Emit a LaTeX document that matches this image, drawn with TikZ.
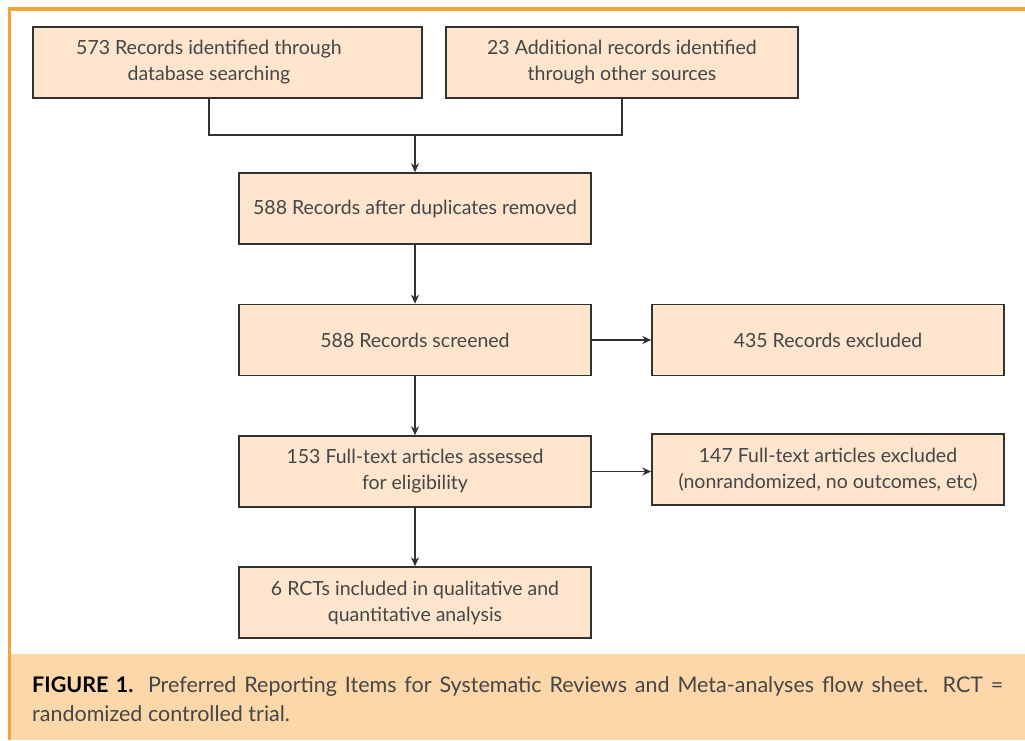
\documentclass[tikz,border=0pt]{standalone}
\usepackage{fontspec}
\setmainfont{Lato}
\usetikzlibrary{arrows.meta}
\definecolor{boxfill}{RGB}{253,229,206}
\definecolor{capfill}{RGB}{252,215,170}
\definecolor{frameorange}{RGB}{247,163,60}
\definecolor{linegray}{RGB}{50,50,50}
\definecolor{textgray}{RGB}{70,70,70}
\tikzstyle{record} = [rectangle, minimum width=352pt, minimum height=71pt, text centered, align=center, draw=linegray, line width=1.5pt, fill=boxfill, text=textgray, font=\fontsize{19.5}{26}\selectfont]
\tikzstyle{arrow} = [line width=1.5pt, draw=linegray, -{Stealth[length=9pt,width=8pt]}]
\tikzstyle{joinline} = [line width=1.5pt, draw=linegray]
\begin{document}
\begin{tikzpicture}[x=1pt,y=-1pt]
	\useasboundingbox (0,0) rectangle (1025,740);
	% frame and caption panel
	\fill[capfill] (11,654) rectangle (1025,740);
	\draw[frameorange, line width=3.5pt] (9.5,740) -- (9.5,9) -- (1025,9);
	\node[record, inner xsep=0pt] (identified) at (227.5,62.5) {\parbox{352pt}{\centering 573 Records identified through\\database searching}\hspace*{37pt}};
	\node[record] (additional) at (622,62.5) {23 Additional records identified\\through other sources};
	\node[record] (duplicates) at (415,208.5) {588 Records after duplicates removed};
	\node[record] (screened) at (415,340) {588 Records screened};
	\node[record] (excluded) at (828,340) {435 Records excluded};
	\node[record] (fulltext) at (415,471.5) {153 Full-text articles assessed\\for eligibility};
	\node[record] (ftexcluded) at (828,469.5) {147 Full-text articles excluded\\(nonrandomized, no outcomes, etc)};
	\node[record] (included) at (415,602.5) {6 RCTs included in qualitative and\\quantitative analysis};
	\coordinate (leftjoin) at (209,135);
	\coordinate (rightjoin) at (622,135);
	\coordinate (midjoin) at (415,135);
	\draw[joinline] (identified.south -| leftjoin) -- (leftjoin) -- (rightjoin) -- (additional.south);
	\draw[arrow] (midjoin) -- (duplicates.north);
	\draw[arrow] (duplicates) -- (screened);
	\draw[arrow] (screened) -- (excluded);
	\draw[arrow] (screened) -- (fulltext);
	\draw[arrow] (fulltext.east) -- (fulltext.east -| ftexcluded.west);
	\draw[arrow] (fulltext) -- (included);
	\node[anchor=north west, text width=971pt, align=justify, inner sep=0pt, text=textgray, font=\fontsize{21.5}{29}\selectfont] (caption) at (32,676) {\textbf{\color{black}FIGURE 1.} Preferred Reporting Items for Systematic Reviews and Meta-analyses flow sheet. RCT =\linebreak randomized controlled trial.};
\end{tikzpicture}
\end{document}
